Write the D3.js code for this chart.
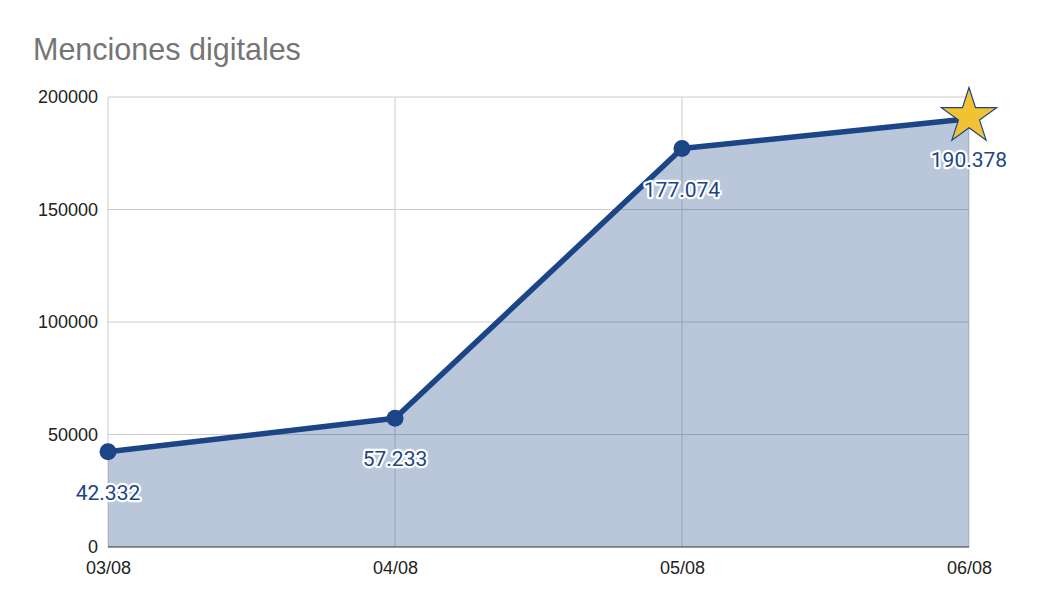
<!DOCTYPE html>
<html>
<head>
<meta charset="utf-8">
<script src="https://cdn.jsdelivr.net/npm/d3@7"></script>
<style>
  html, body { margin: 0; padding: 0; background: #fff; }
  svg { display: block; }
</style>
</head>
<body>
<svg id="chart" width="1046" height="611"></svg>
<script>
const title = "Menciones digitales";
const categories = ["03/08", "04/08", "05/08", "06/08"];
const values = [42332, 57233, 177074, 190378];
const valueLabels = ["42.332", "57.233", "177.074", "190.378"];
const yTicks = [0, 50000, 100000, 150000, 200000];

const W = 1046, H = 611;
const margin = { left: 108, right: 77, top: 97, bottom: 64 };
const svg = d3.select("#chart");

const x = d3.scalePoint().domain(categories).range([margin.left, W - margin.right]);
const y = d3.scaleLinear().domain([0, 200000]).range([H - margin.bottom, margin.top]);

const lineColor = "#1c4587";

// title
svg.append("text")
  .attr("x", 33).attr("y", 60)
  .attr("font-family", "Arial, 'Liberation Sans', sans-serif")
  .attr("font-size", 30.5)
  .attr("fill", "#757575")
  .text(title);

// horizontal grid
const gH = svg.append("g");
gH.selectAll("line").data(yTicks.filter(d => d > 0)).join("line")
  .attr("x1", margin.left).attr("x2", W - margin.right)
  .attr("y1", d => y(d)).attr("y2", d => y(d))
  .attr("stroke", "#cccccc").attr("stroke-width", 1);

// vertical grid
gH.selectAll("line.v").data(categories).join("line").attr("class", "v")
  .attr("x1", d => x(d)).attr("x2", d => x(d))
  .attr("y1", margin.top).attr("y2", y(0))
  .attr("stroke", "#cccccc").attr("stroke-width", 1);

const data = categories.map((c, i) => ({ c, v: values[i], lab: valueLabels[i] }));

// area
const area = d3.area().x(d => x(d.c)).y0(y(0)).y1(d => y(d.v));
svg.append("path").datum(data)
  .attr("d", area)
  .attr("fill", lineColor).attr("fill-opacity", 0.3);

// baseline
svg.append("line")
  .attr("x1", margin.left).attr("x2", W - margin.right)
  .attr("y1", y(0)).attr("y2", y(0))
  .attr("stroke", "#333333").attr("stroke-width", 1.2);

// y axis labels
const yAxis = d3.axisLeft(y).tickValues(yTicks).tickSize(0).tickPadding(10).tickFormat(d3.format("d"));
const gy = svg.append("g").attr("transform", `translate(${margin.left},0)`).call(yAxis);
gy.select(".domain").remove();
gy.selectAll("text")
  .attr("font-family", "Arial, 'Liberation Sans', sans-serif")
  .attr("font-size", 18).attr("fill", "#222222");

// x axis labels
const xAxis = d3.axisBottom(x).tickSize(0).tickPadding(14);
const gx = svg.append("g").attr("transform", `translate(0,${y(0)})`).call(xAxis);
gx.select(".domain").remove();
gx.selectAll("text")
  .attr("font-family", "Arial, 'Liberation Sans', sans-serif")
  .attr("font-size", 18).attr("fill", "#222222");

// line
const line = d3.line().x(d => x(d.c)).y(d => y(d.v));
svg.append("path").datum(data)
  .attr("d", line)
  .attr("fill", "none").attr("stroke", lineColor)
  .attr("stroke-width", 5.5).attr("stroke-linejoin", "round");

// points (except last)
svg.selectAll("circle.pt").data(data.slice(0, -1)).join("circle").attr("class", "pt")
  .attr("cx", d => x(d.c)).attr("cy", d => y(d.v)).attr("r", 8.5)
  .attr("fill", lineColor);

// star on last point
const last = data[data.length - 1];
const star = d3.symbol().type(d3.symbolStar).size(950);
svg.append("path")
  .attr("d", star())
  .attr("transform", `translate(${x(last.c)},${y(last.v) - 2})`)
  .attr("fill", "#f1c232").attr("stroke", lineColor).attr("stroke-width", 1.2);

// value labels
const lbl = svg.append("g");
lbl.selectAll("text.halo").data(data).join("text").attr("class", "halo")
  .attr("x", d => x(d.c)).attr("y", d => y(d.v) + 48)
  .attr("text-anchor", "middle")
  .attr("font-family", "Roboto, 'Noto Sans', sans-serif")
  .attr("font-size", 21)
  .attr("fill", "none").attr("stroke", "#ffffff").attr("stroke-width", 4.5).attr("stroke-linejoin", "round")
  .text(d => d.lab);
lbl.selectAll("text.val").data(data).join("text").attr("class", "val")
  .attr("x", d => x(d.c)).attr("y", d => y(d.v) + 48)
  .attr("text-anchor", "middle")
  .attr("font-family", "Roboto, 'Noto Sans', sans-serif")
  .attr("font-size", 21)
  .attr("fill", "#1c4587")
  .text(d => d.lab);
</script>
</body>
</html>
